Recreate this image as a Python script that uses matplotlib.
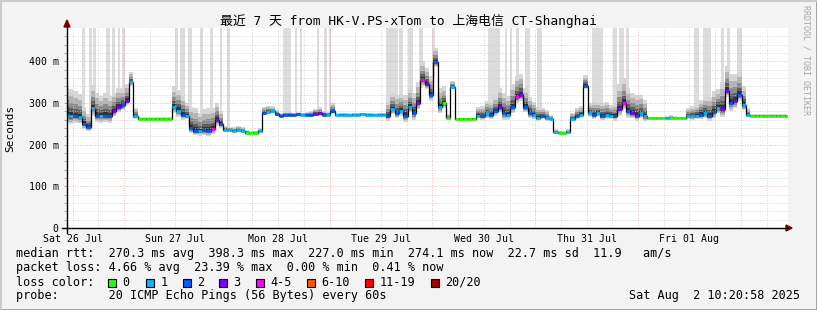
import numpy as np
import matplotlib
matplotlib.use("Agg")
import matplotlib.pyplot as plt
from matplotlib.lines import Line2D
from matplotlib.patches import Rectangle, Polygon
from matplotlib.collections import LineCollection

MONO = ['DejaVu Sans Mono', 'Noto Sans CJK SC']

# ---- data (hourly samples over 7 days, hour 0 = Sat 26 Jul ~10:40)
hours = np.arange(169)

median_ms = [
    272, 268, 268, 266, 250, 243, 288, 270, 268, 270, 268, 280, 290, 295, 305, 350,
    268, 262, 262, 262, 262, 262, 262, 262, 262,
    290, 282, 272, 270,
    240, 234, 232, 235, 233, 238, 260, 250,
    236, 235, 234, 235, 233,
    229, 227, 228, 232,
    276, 278, 280, 273,
    270, 272, 272, 272, 273, 272, 272, 272, 274, 275, 272, 272,
    280,
    271, 272, 272, 271, 272, 272, 273, 272, 272, 271, 272, 272,
    268, 285, 275, 282, 270, 290, 275, 300,
    355, 345, 320, 398, 290, 300,
    264, 338, 262, 262, 262, 262, 262,
    270, 268, 275, 272, 280,
    290, 275, 272, 290, 315, 320, 290, 275,
    272, 265, 268, 264, 262,
    230, 228, 227, 230,
    262, 268, 272,
    342,
    275, 272, 276, 270, 272, 270, 268,
    285, 300, 280, 275, 270, 275, 268,
    263, 263, 263, 263, 263, 263, 263, 263, 263,
    268, 268, 270,
    272, 275, 270, 278, 288,
    285, 330, 300, 305, 320, 295,
    272, 270, 270, 270, 270, 270, 270, 270, 270, 270,
]

# loss class per sample: 0 -> "0", 1 -> "1", 2 -> "2", 3 -> "3", 4 -> "4-5" ...
loss_class = [
    1, 1, 2, 1, 2, 2, 1, 2, 1, 2, 2, 3, 3, 2, 3, 1,
    1, 0, 0, 0, 0, 0, 0, 0, 0,
    1, 1, 2, 1,
    2, 2, 1, 2, 2, 4, 3, 2,
    1, 1, 1, 1, 1,
    0, 0, 0, 1,
    2, 1, 1, 2,
    2, 2, 2, 2, 2, 1, 2, 2, 3, 3, 2, 1,
    2,
    1, 1, 1, 1, 1, 1, 1, 1, 1, 1, 1, 1,
    2, 1, 2, 1, 2, 1, 2, 3,
    4, 3, 2, 2, 1, 0,
    0, 1, 0, 0, 0, 0, 0,
    1, 2, 1, 2, 2,
    3, 2, 1, 2, 4, 3, 2, 2,
    1, 1, 2, 1, 1,
    1, 0, 0, 1,
    1, 2, 1,
    2,
    1, 2, 1, 2, 1, 1, 2,
    3, 4, 2, 3, 2, 1, 1,
    0, 0, 0, 0, 1, 0, 0, 0, 0,
    1, 1, 1,
    2, 1, 2, 2, 1,
    3, 3, 2, 3, 2, 1,
    1, 0, 0, 0, 0, 0, 0, 0, 0, 0,
]

# smoke extent above / below the median (ms)
smoke_hi = [
    70, 65, 60, 55, 40, 30, 55, 55, 50, 55, 50, 45, 45, 40, 40, 25,
    20, 4, 4, 4, 4, 4, 4, 4, 4,
    50, 50, 45, 30,
    50, 55, 45, 50, 55, 50, 40, 30,
    10, 8, 8, 10, 10,
    6, 5, 5, 8,
    15, 15, 12, 10,
    6, 6, 6, 5, 5, 5, 6, 8, 12, 15, 10, 6,
    20,
    4, 4, 4, 4, 4, 4, 4, 4, 4, 4, 4, 4,
    35, 40, 45, 40, 50, 45, 50, 50,
    45, 40, 45, 35, 45, 40,
    10, 15, 3, 3, 3, 3, 3,
    20, 25, 30, 30, 35,
    45, 50, 45, 55, 50, 50, 45, 40,
    30, 25, 20, 20, 10,
    8, 6, 6, 8,
    15, 20, 20,
    25,
    25, 30, 25, 30, 30, 25, 30,
    60, 60, 55, 50, 50, 45, 40,
    4, 4, 4, 4, 6, 8, 5, 4, 4,
    20, 25, 25,
    35, 40, 45, 50, 45,
    65, 60, 70, 65, 55, 45,
    15, 3, 3, 3, 3, 3, 3, 3, 3, 3,
]
smoke_lo = [
    20, 18, 15, 15, 12, 10, 18, 15, 15, 15, 15, 12, 12, 12, 10, 8,
    6, 2, 2, 2, 2, 2, 2, 2, 2,
    15, 15, 12, 8,
    12, 10, 10, 12, 12, 12, 15, 10,
    4, 3, 3, 4, 4,
    3, 2, 2, 3,
    5, 5, 4, 4,
    3, 3, 3, 2, 2, 2, 3, 3, 4, 5, 4, 3,
    6,
    2, 2, 2, 2, 2, 2, 2, 2, 2, 2, 2, 2,
    10, 12, 12, 12, 15, 12, 15, 15,
    15, 12, 15, 12, 15, 12,
    3, 5, 2, 2, 2, 2, 2,
    6, 8, 10, 10, 10,
    12, 15, 12, 15, 15, 15, 12, 12,
    10, 8, 6, 6, 3,
    3, 2, 2, 3,
    5, 6, 6,
    8,
    8, 10, 8, 10, 10, 8, 10,
    15, 15, 15, 12, 12, 12, 12,
    2, 2, 3, 2, 2, 3, 2, 2, 2,
    6, 8, 8,
    10, 12, 12, 15, 12,
    18, 15, 18, 18, 15, 12,
    5, 2, 2, 2, 2, 2, 2, 2, 2, 2,
]

# light grey loss columns (start hour, end hour)
loss_bars = [
    (3.5, 4.2), (5.1, 5.8), (6.1, 6.8), (9.1, 10.0), (10.5, 11.2), (11.9, 12.4),
    (12.8, 13.5), (25.2, 25.9), (26.4, 27.6), (28.3, 29.2), (31.1, 31.8),
    (33.4, 34.1), (35.7, 36.2), (37.4, 38.1), (50.4, 52.3), (53.2, 53.7),
    (54.4, 54.9), (58.4, 58.8), (60.0, 60.7), (61.2, 61.6), (74.5, 77.3),
    (77.5, 78.5), (79.6, 80.8), (82.2, 83.1), (85.2, 85.9), (98.3, 101.1),
    (102.3, 102.7), (103.4, 103.9), (104.8, 105.5), (106.9, 108.1),
    (109.7, 110.9), (122.6, 125.1), (127.5, 128.4), (128.9, 130.1),
    (130.5, 131.2), (146.4, 147.5), (148.4, 150.3), (152.7, 153.4),
    (154.1, 154.8), (156.4, 157.6),
]

day_labels = ['Sat 26 Jul', 'Sun 27 Jul', 'Mon 28 Jul', 'Tue 29 Jul',
              'Wed 30 Jul', 'Thu 31 Jul', 'Fri 01 Aug']
day_noon = [1.3, 25.3, 49.3, 73.3, 97.3, 121.3, 145.3]
midnights = [13.3, 37.3, 61.3, 85.3, 109.3, 133.3, 157.3]

loss_colors = ['#26ff00', '#00b8ff', '#0059ff', '#7e00ff',
               '#ff00ff', '#ff5500', '#ff0000', '#a10000']
loss_names = ['0', '1', '2', '3', '4-5', '6-10', '11-19', '20/20']

rtt_line = 'median rtt:  270.3 ms avg  398.3 ms max  227.0 ms min  274.1 ms now  22.7 ms sd  11.9   am/s'
loss_line = 'packet loss: 4.66 % avg  23.39 % max  0.00 % min  0.41 % now'
probe_line = 'probe:       20 ICMP Echo Pings (56 Bytes) every 60s'
stamp = 'Sat Aug  2 10:20:58 2025'

assert len(median_ms) == len(hours) == len(loss_class) == len(smoke_hi) == len(smoke_lo)

med = np.array(median_ms, dtype=float)
hi = np.array(smoke_hi, dtype=float)
lo = np.array(smoke_lo, dtype=float)

W, H = 817, 310
fig = plt.figure(figsize=(W / 100, H / 100), dpi=100, facecolor='#f3f3f3')
ax = fig.add_axes([67 / W, 1 - 228 / H, 721 / W, 200 / H])
ax.set_facecolor('white')
ax.set_xlim(0, 168.3)
ax.set_ylim(0, 480)

# grid (drawn on top of the bars, like rrdtool)
for v in range(20, 480, 20):
    if v % 100 == 0:
        ax.axhline(v, color='#eba0a0', lw=0.6, ls=(0, (1, 2)), zorder=2.5)
    else:
        ax.axhline(v, color='#c8c8c8', lw=0.6, ls=(0, (1, 2)), zorder=2.5)
for h in np.arange(1.3, 168.3, 6):
    if any(abs(h - m) < 0.01 for m in midnights):
        ax.axvline(h, color='#eba0a0', lw=0.6, ls=(0, (1, 2)), zorder=2.5)
    else:
        ax.axvline(h, color='#c8c8c8', lw=0.6, ls=(0, (1, 2)), zorder=2.5)

# loss bars
for a, b in loss_bars:
    c = (a + b) / 2
    base = np.interp(c, hours, med)
    ax.bar(c, 480 - base, bottom=base, width=b - a, color='#dcdcdc', lw=0, zorder=1)

# smoke
shades = [(1.0, '#d6d6d6'), (0.75, '#b4b4b4'), (0.5, '#8c8c8c'),
          (0.3, '#5e5e5e'), (0.15, '#333333')]
for f, col in shades:
    ax.fill_between(hours, med - lo * f, med + hi * f, step='mid', color=col, lw=0, zorder=2)

# median line: black steps + loss coloured horizontals
ax.step(hours, med, where='mid', color='black', lw=0.9, zorder=3)
segs = [[(h - 0.5, m), (h + 0.5, m)] for h, m in zip(hours, med)]
cols = [loss_colors[k] for k in loss_class]
ax.add_collection(LineCollection(segs, colors=cols, linewidths=2.0, zorder=4))

for s in ax.spines.values():
    s.set_visible(False)

ax.set_xticks(day_noon, day_labels)
ax.tick_params(axis='x', length=0, pad=4, labelsize=7.1)
ax.set_yticks([0, 100, 200, 300, 400], ['0', '100 m', '200 m', '300 m', '400 m'])
ax.set_yticks(np.arange(20, 480, 20), minor=True)
ax.tick_params(axis='y', which='both', length=2, width=0.6, color='#999999',
               pad=4, labelsize=7.1)
for lab in ax.get_xticklabels() + ax.get_yticklabels():
    lab.set_family(MONO)

# axes with arrows
fig.add_artist(Line2D([62 / W, 788 / W], [1 - 228 / H] * 2, color='black', lw=1))
fig.add_artist(Line2D([67 / W] * 2, [1 - 233 / H, 1 - 25 / H], color='black', lw=1))
fig.add_artist(Polygon([[786 / W, 1 - 225 / H], [792 / W, 1 - 228 / H], [786 / W, 1 - 231 / H]],
                       closed=True, color='#7f0000', transform=fig.transFigure))
fig.add_artist(Polygon([[64 / W, 1 - 27 / H], [67 / W, 1 - 20 / H], [70 / W, 1 - 27 / H]],
                       closed=True, color='#7f0000', transform=fig.transFigure))

# border shading
fig.add_artist(Line2D([0, 1], [0.5 / H, 0.5 / H], color='#999999', lw=2))
fig.add_artist(Line2D([1 - 0.5 / W] * 2, [0, 1], color='#999999', lw=2))
fig.add_artist(Line2D([0, 1], [1 - 0.5 / H] * 2, color='#cbcbcb', lw=1.5))
fig.add_artist(Line2D([0.5 / W] * 2, [0, 1], color='#cbcbcb', lw=1.5))


def px(x, y, s, **kw):
    kw.setdefault('family', MONO)
    kw.setdefault('fontsize', 8.5)
    kw.setdefault('va', 'center')
    fig.text(x / W, 1 - y / H, s, **kw)


px(408, 21, '最近 7 天 from HK-V.PS-xTom to 上海电信 CT-Shanghai', ha='center', fontsize=9.3)
px(10, 128, 'Seconds', ha='center', rotation=90, fontsize=8)
px(806, 60, 'RRDTOOL / TOBI OETIKER', ha='center', rotation=270, fontsize=6,
   color='#a8a8a8')

px(16, 254, rtt_line)
px(16, 268, loss_line)
px(16, 282, 'loss color:')
sq_x = [108, 146, 183, 219, 256, 307, 365, 431]
for x, c, n in zip(sq_x, loss_colors, loss_names):
    fig.add_artist(Rectangle((x / W, 1 - 287 / H), 8 / W, 8 / H, facecolor=c,
                             edgecolor='black', lw=0.8, transform=fig.transFigure))
    px(x + 14.5, 282, n)
px(16, 296, probe_line)
px(800, 296, stamp, ha='right')

fig.savefig('out.png', dpi=100, facecolor=fig.get_facecolor())
